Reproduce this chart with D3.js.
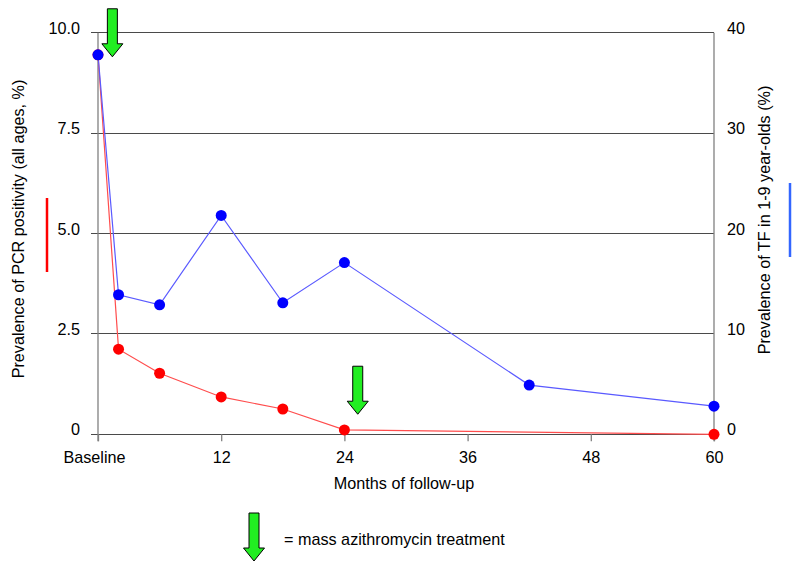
<!DOCTYPE html>
<html>
<head>
<meta charset="utf-8">
<script src="https://cdn.jsdelivr.net/npm/d3@7"></script>
<style>
  body { margin: 0; background: #fff; }
  svg { display: block; font-family: "Liberation Sans", Arial, sans-serif; }
</style>
</head>
<body>
<svg id="chart" width="800" height="570"></svg>
<script>
// ---- data ----
const pcrMonths = [0, 2, 6, 12, 18, 24, 60];
const pcrValues = [9.45, 2.12, 1.52, 0.93, 0.63, 0.11, 0.0];
const tfMonths = [0, 2, 6, 12, 18, 24, 42, 60];
const tfValues = [37.8, 13.9, 12.9, 21.8, 13.1, 17.1, 4.9, 2.8];
const treatmentMonths = [1.4, 25.3];
const treatmentTipValues = [9.4, 0.5];
const xTickValues = [0, 12, 24, 36, 48, 60];
const xTickLabels = ["Baseline", "12", "24", "36", "48", "60"];
const leftTickValues = [0, 2.5, 5, 7.5, 10];
const leftTickLabels = ["0", "2.5", "5.0", "7.5", "10.0"];
const rightTickValues = [0, 10, 20, 30, 40];
const rightTickLabels = ["0", "10", "20", "30", "40"];
const leftTitle = "Prevalence of PCR positivity (all ages, %)";
const rightTitle = "Prevalence of TF in 1-9 year-olds (%)";
const xTitle = "Months of follow-up";
const legendText = "= mass azithromycin treatment";

// ---- layout ----
const svg = d3.select("#chart");
const X0 = 98, X1 = 714, Y0 = 434.3, Y1 = 32.7;
const x = d3.scaleLinear().domain([0, 60]).range([X0, X1]);
const yL = d3.scaleLinear().domain([0, 10]).range([Y0, Y1]);
const yR = d3.scaleLinear().domain([0, 40]).range([Y0, Y1]);
const FS = 16.2;

// gridlines
svg.append("g").selectAll("line").data(leftTickValues).join("line")
  .attr("x1", X0 - 7).attr("x2", X1)
  .attr("y1", d => yL(d)).attr("y2", d => yL(d))
  .attr("stroke", "#4a4a4a").attr("stroke-width", 1).attr("shape-rendering", "crispEdges");

// axis lines
svg.append("line").attr("x1", X0).attr("x2", X0).attr("y1", Y1).attr("y2", Y0 + 7)
  .attr("stroke", "#808080").attr("stroke-width", 1.3);
svg.append("line").attr("x1", X1).attr("x2", X1).attr("y1", Y1).attr("y2", Y0 + 7)
  .attr("stroke", "#808080").attr("stroke-width", 1.3);

// x axis
const xAxis = d3.axisBottom(x).tickValues(xTickValues)
  .tickFormat((d, i) => xTickLabels[i]).tickSize(7).tickPadding(10);
const gx = svg.append("g").attr("transform", `translate(0,${Y0})`).call(xAxis);
gx.select(".domain").remove();
gx.selectAll(".tick line").attr("stroke", "#808080").attr("stroke-width", 1.3);
gx.selectAll(".tick text").attr("font-size", FS).attr("fill", "#000")
  .attr("font-family", "Liberation Sans, Arial, sans-serif");
gx.selectAll(".tick text").filter((d, i) => i === 0).attr("dx", -4);

// left axis
const yAxisL = d3.axisLeft(yL).tickValues(leftTickValues)
  .tickFormat((d, i) => leftTickLabels[i]).tickSize(0).tickPadding(18);
const gl = svg.append("g").attr("transform", `translate(${X0},0)`).call(yAxisL);
gl.select(".domain").remove();
gl.selectAll(".tick text").attr("font-size", FS).attr("fill", "#000")
  .attr("font-family", "Liberation Sans, Arial, sans-serif")
  .attr("y", -4.5);

// right axis
const yAxisR = d3.axisRight(yR).tickValues(rightTickValues)
  .tickFormat((d, i) => rightTickLabels[i]).tickSize(0).tickPadding(13);
const gr = svg.append("g").attr("transform", `translate(${X1},0)`).call(yAxisR);
gr.select(".domain").remove();
gr.selectAll(".tick text").attr("font-size", FS).attr("fill", "#000")
  .attr("font-family", "Liberation Sans, Arial, sans-serif")
  .attr("y", -4.5);

// titles
svg.append("text").attr("transform", "translate(24,229) rotate(-90)")
  .attr("text-anchor", "middle").attr("font-size", FS).text(leftTitle);
svg.append("text").attr("transform", "translate(770,220) rotate(-90)")
  .attr("text-anchor", "middle").attr("font-size", FS).text(rightTitle);
svg.append("text").attr("x", 404).attr("y", 489)
  .attr("text-anchor", "middle").attr("font-size", FS).text(xTitle);

// colour markers next to titles
svg.append("line").attr("x1", 47).attr("x2", 47).attr("y1", 198).attr("y2", 272)
  .attr("stroke", "#ff0000").attr("stroke-width", 2.5);
svg.append("line").attr("x1", 790).attr("x2", 790).attr("y1", 183).attr("y2", 257)
  .attr("stroke", "#3366ff").attr("stroke-width", 2.5);

// lines
const pcr = pcrMonths.map((m, i) => [m, pcrValues[i]]);
const tf = tfMonths.map((m, i) => [m, tfValues[i]]);
svg.append("path").datum(pcr)
  .attr("d", d3.line().x(d => x(d[0])).y(d => yL(d[1])))
  .attr("fill", "none").attr("stroke", "#ff4d4d").attr("stroke-width", 1.2);
svg.append("path").datum(tf)
  .attr("d", d3.line().x(d => x(d[0])).y(d => yR(d[1])))
  .attr("fill", "none").attr("stroke", "#5a5aff").attr("stroke-width", 1.2);

// points
svg.append("g").selectAll("circle").data(pcr).join("circle")
  .attr("cx", d => x(d[0])).attr("cy", d => yL(d[1])).attr("r", 5.5).attr("fill", "#ff0000");
svg.append("g").selectAll("circle").data(tf).join("circle")
  .attr("cx", d => x(d[0])).attr("cy", d => yR(d[1])).attr("r", 5.5).attr("fill", "#0000ff");

// arrows
function arrowPath(cx, tipY) {
  const sw = 5, hw = 10.5, hh = 13, len = 48;
  const top = tipY - len, hs = tipY - hh;
  return `M${cx - sw},${top} L${cx + sw},${top} L${cx + sw},${hs} L${cx + hw},${hs} ` +
         `L${cx},${tipY} L${cx - hw},${hs} L${cx - sw},${hs} Z`;
}
svg.append("g").selectAll("path").data(treatmentMonths).join("path")
  .attr("d", (d, i) => arrowPath(x(d), yL(treatmentTipValues[i])))
  .attr("fill", "#22ee22").attr("stroke", "#000").attr("stroke-width", 1);

// legend
svg.append("path").attr("d", arrowPath(254, 561))
  .attr("fill", "#22ee22").attr("stroke", "#000").attr("stroke-width", 1);
svg.append("text").attr("x", 284).attr("y", 545).attr("font-size", FS).text(legendText);
</script>
</body>
</html>
